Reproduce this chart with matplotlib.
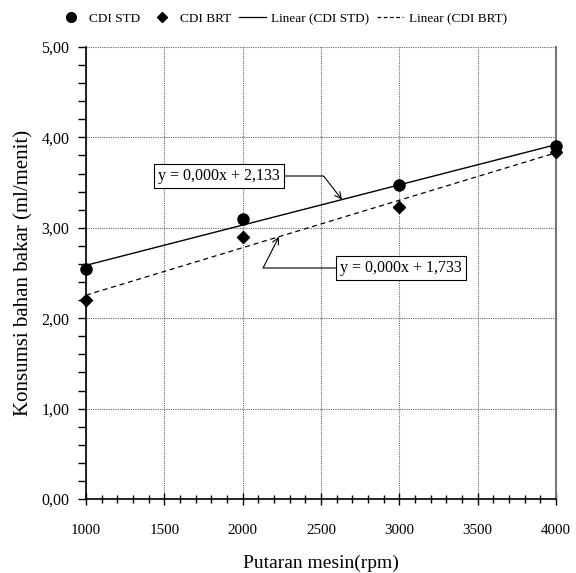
import numpy as np
import matplotlib
matplotlib.use("Agg")
import matplotlib.pyplot as plt
from matplotlib.ticker import MultipleLocator, FuncFormatter
from matplotlib.lines import Line2D

plt.rcParams['font.family'] = ['Liberation Serif', 'DejaVu Serif']

rpm = [1000, 2000, 3000, 4000]
cdi_std = [2.54, 3.10, 3.47, 3.90]
cdi_brt = [2.20, 2.90, 3.23, 3.84]
eq_std = "y = 0,000x + 2,133"
eq_brt = "y = 0,000x + 1,733"

fig = plt.figure(figsize=(5.76, 5.73), dpi=100)
ax = fig.add_axes([86/576, 1-499/573, 470/576, 452/573])

x = np.array(rpm, dtype=float)
xx = np.array([1000, 4000], dtype=float)
p_std = np.polyfit(x, cdi_std, 1)
p_brt = np.polyfit(x, cdi_brt, 1)

ax.plot(xx, np.polyval(p_std, xx), color='black', lw=1.0, zorder=3)
ax.plot(xx, np.polyval(p_brt, xx), color='black', lw=0.9, ls=(0, (4, 3)), zorder=3)
ax.plot(rpm, cdi_std, 'o', color='black', ms=8, zorder=4, clip_on=False)
ax.plot(rpm, cdi_brt, 'D', color='black', ms=6, zorder=4, clip_on=False)

ax.set_xlim(1000, 4000)
ax.set_ylim(0, 5)
ax.xaxis.set_major_locator(MultipleLocator(500))
ax.xaxis.set_minor_locator(MultipleLocator(100))
ax.yaxis.set_major_locator(MultipleLocator(1))
ax.yaxis.set_minor_locator(MultipleLocator(0.2))
ax.yaxis.set_major_formatter(FuncFormatter(lambda v, p: f"{v:.2f}".replace('.', ',')))
ax.grid(True, which='major', color='#666666', ls=(0, (1, 1)), lw=0.8)

ax.spines['top'].set_visible(False)
ax.spines['right'].set_color('#777777')
ax.spines['right'].set_linewidth(1.5)
ax.spines['left'].set_linewidth(1.2)
ax.spines['bottom'].set_linewidth(1.2)
ax.tick_params(axis='x', which='major', direction='inout', length=8, width=1, labelsize=10.8, pad=14)
ax.tick_params(axis='x', which='minor', direction='inout', length=6, width=1)
ax.tick_params(axis='y', which='major', direction='out', length=6, width=1, labelsize=11.5, pad=6)
ax.tick_params(axis='y', which='minor', direction='out', length=6, width=1)

ax.set_xlabel("Putaran mesin(rpm)", fontsize=14, labelpad=13)
ax.set_ylabel("Konsumsi bahan bakar (ml/menit)", fontsize=15, labelpad=6)

# annotations
xa1 = 2634
ax.annotate(eq_std, xy=(xa1, np.polyval(p_std, xa1)), xycoords='data',
            xytext=(158, 397), textcoords='figure pixels', fontsize=11.5,
            ha='left', va='center',
            bbox=dict(boxstyle='square,pad=0.25', fc='white', ec='black', lw=0.8),
            arrowprops=dict(arrowstyle='->', color='black', lw=0.8,
                            connectionstyle='angle,angleA=0,angleB=128,rad=0',
                            shrinkA=0, shrinkB=0), zorder=5)
xa2 = 2232
ax.annotate(eq_brt, xy=(xa2, np.polyval(p_brt, xa2)), xycoords='data',
            xytext=(340, 305), textcoords='figure pixels', fontsize=11.5,
            ha='left', va='center',
            bbox=dict(boxstyle='square,pad=0.25', fc='white', ec='black', lw=0.8),
            arrowprops=dict(arrowstyle='->', color='black', lw=0.8,
                            connectionstyle='angle,angleA=0,angleB=63,rad=0',
                            shrinkA=0, shrinkB=0), zorder=5)

handles = [
    Line2D([], [], marker='o', color='black', ls='none', ms=7),
    Line2D([], [], marker='D', color='black', ls='none', ms=5),
    Line2D([], [], color='black', lw=0.9),
    Line2D([], [], color='black', lw=0.9, ls=(0, (3, 2))),
]
labels = ["CDI STD", "CDI BRT", "Linear (CDI STD)", "Linear (CDI BRT)"]
fig.legend(handles, labels, loc='center', bbox_to_anchor=(0.49, 1-19/573), ncol=4,
           frameon=False, fontsize=9.5, handlelength=2.0, columnspacing=0.6, handletextpad=0.4)

fig.savefig("out.png", dpi=100)
